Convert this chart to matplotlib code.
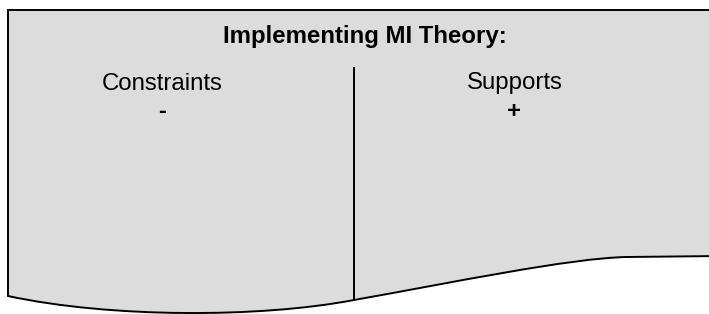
import matplotlib
matplotlib.use("Agg")
import matplotlib.pyplot as plt
from matplotlib.path import Path
from matplotlib.patches import PathPatch

plt.rcParams['font.family'] = ['Liberation Sans', 'DejaVu Sans']

title = "Implementing MI Theory:"
columns = ["Constraints", "Supports"]
signs = ["-", "+"]

# document shape outline in pixel coords (y down)
top_y = 10
left_x = 8
right_x = 720
bottom_left = (8, 296)
divider_x = 354
divider_top = 68

W, H = 709, 314
fig = plt.figure(figsize=(W / 100, H / 100), dpi=100)
ax = fig.add_axes([0, 0, 1, 1])
ax.set_xlim(0, W)
ax.set_ylim(H, 0)
ax.axis("off")

verts = [
    (right_x, top_y), (left_x, top_y), bottom_left,
    (110, 318), (260, 318), (divider_x, 300),
    (450, 283), (570, 258), (627, 257),
    (right_x, 256),
    (right_x, top_y),
]
codes = [Path.MOVETO, Path.LINETO, Path.LINETO,
         Path.CURVE4, Path.CURVE4, Path.CURVE4,
         Path.CURVE4, Path.CURVE4, Path.CURVE4,
         Path.LINETO, Path.CLOSEPOLY]
ax.add_patch(PathPatch(Path(verts, codes), facecolor="#dcdcdc",
                       edgecolor="black", lw=1.4))

ax.plot([divider_x, divider_x], [divider_top, 300], color="black", lw=1.4)

ax.text(364.5, 43, title, ha="center", va="baseline", fontsize=17.3,
        fontweight="bold")
col_x = [162, 514.5]
for x, name, s in zip(col_x, columns, signs):
    ax.text(x, 89.5, name, ha="center", va="baseline", fontsize=17.3)
    ax.text(x, 118, s, ha="center", va="baseline", fontsize=17.3,
            fontweight="bold")

fig.savefig("out.png", dpi=100)
